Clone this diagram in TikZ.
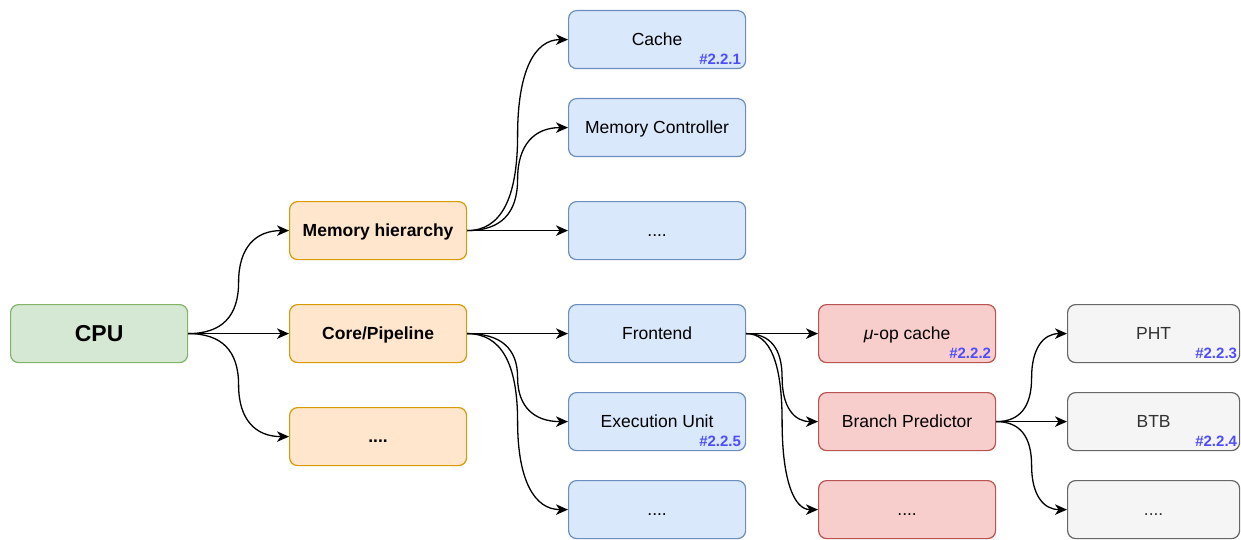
\documentclass[tikz,border=0pt]{standalone}
\usepackage{fontspec}
\setmainfont{Liberation Sans}
\usetikzlibrary{arrows.meta,calc}
\definecolor{gfill}{HTML}{D5E8D4}\definecolor{gline}{HTML}{82B366}
\definecolor{ofill}{HTML}{FFE6CC}\definecolor{oline}{HTML}{D79B00}
\definecolor{bfill}{HTML}{DAE8FC}\definecolor{bline}{HTML}{6C8EBF}
\definecolor{rfill}{HTML}{F8CECC}\definecolor{rline}{HTML}{B85450}
\definecolor{yfill}{HTML}{F5F5F5}\definecolor{yline}{HTML}{666666}
\definecolor{ytext}{HTML}{333333}
\definecolor{labcol}{HTML}{4D4DFF}
\tikzset{
  box/.style={draw, rounded corners=8pt, line width=1.2pt, minimum width=177pt,
    minimum height=58pt, inner sep=0pt, anchor=north west,
    text height=12.5pt, text depth=0pt,
    font=\fontsize{17.5}{20}\selectfont},
  gbox/.style={box, fill=gfill, draw=gline, text height=16.5pt,
    font=\fontsize{23}{26}\selectfont\bfseries},
  obox/.style={box, fill=ofill, draw=oline, font=\fontsize{17.5}{20}\selectfont\bfseries},
  bbox/.style={box, fill=bfill, draw=bline},
  rbox/.style={box, fill=rfill, draw=rline},
  ybox/.style={box, fill=yfill, draw=yline, text=ytext, minimum width=172pt},
  lab/.style={anchor=base east, inner sep=0pt, text=labcol,
    font=\fontsize{15}{16}\selectfont\bfseries},
  curv/.style={to path={let \p1=(\tikztostart), \p2=(\tikztotarget),
      \n1={(\x1+\x2)/2}, \n2={(\y1+\y2)/2} in
      .. controls ({\x1+2/3*(\n1-\x1)},\y1) and (\n1,{\n2+2/3*(\y1-\n2)}) .. (\n1,\n2)
      .. controls (\n1,{\n2+2/3*(\y2-\n2)}) and ({\x2+2/3*(\n1-\x2)},\y2) .. (\tikztotarget)}},
  edge/.style={line width=1.3pt, -{Stealth[length=12pt,width=10.5pt,inset=3.5pt]}, curv}
}
\begin{document}
\begin{tikzpicture}[x=1pt,y=-1pt]
\useasboundingbox (0,0) rectangle (1241,540);
\node[gbox] (cpu) at (10,304) {CPU};
\node[obox] (mh) at (289,201) {Memory hierarchy};
\node[obox] (core) at (289,304) {Core/Pipeline};
\node[obox] (od) at (289,407) {....};
\node[bbox] (cache) at (568,10) {Cache};
\node[bbox] (mc) at (568,98) {Memory Controller};
\node[bbox] (bd1) at (568,201) {....};
\node[bbox] (fe) at (568,304) {Frontend};
\node[bbox] (eu) at (568,392) {Execution Unit};
\node[bbox] (bd2) at (568,480) {....};
\node[rbox] (uop) at (818,304) {{\itshape μ}-op cache};
\node[rbox] (bp) at (818,392) {Branch Predictor};
\node[rbox] (rd) at (818,480) {....};
\node[ybox] (pht) at (1067,304) {PHT};
\node[ybox] (btb) at (1067,392) {BTB};
\node[ybox] (yd) at (1067,480) {....};
\node[lab] (l1) at ($(cache.south east)+(-5,-5)$) {\#2.2.1};
\node[lab] (l2) at ($(uop.south east)+(-5,-5)$) {\#2.2.2};
\node[lab] (l3) at ($(pht.south east)+(-3,-5)$) {\#2.2.3};
\node[lab] (l4) at ($(btb.south east)+(-3,-5)$) {\#2.2.4};
\node[lab] (l5) at ($(eu.south east)+(-5,-5)$) {\#2.2.5};
\foreach \s/\t in {cpu/mh, cpu/core, cpu/od, mh/cache, mh/mc, mh/bd1,
  core/fe, core/eu, core/bd2, fe/uop, fe/bp, fe/rd, bp/pht, bp/btb, bp/yd}
  \draw[edge] (\s.east) to (\t.west);
\end{tikzpicture}
\end{document}
